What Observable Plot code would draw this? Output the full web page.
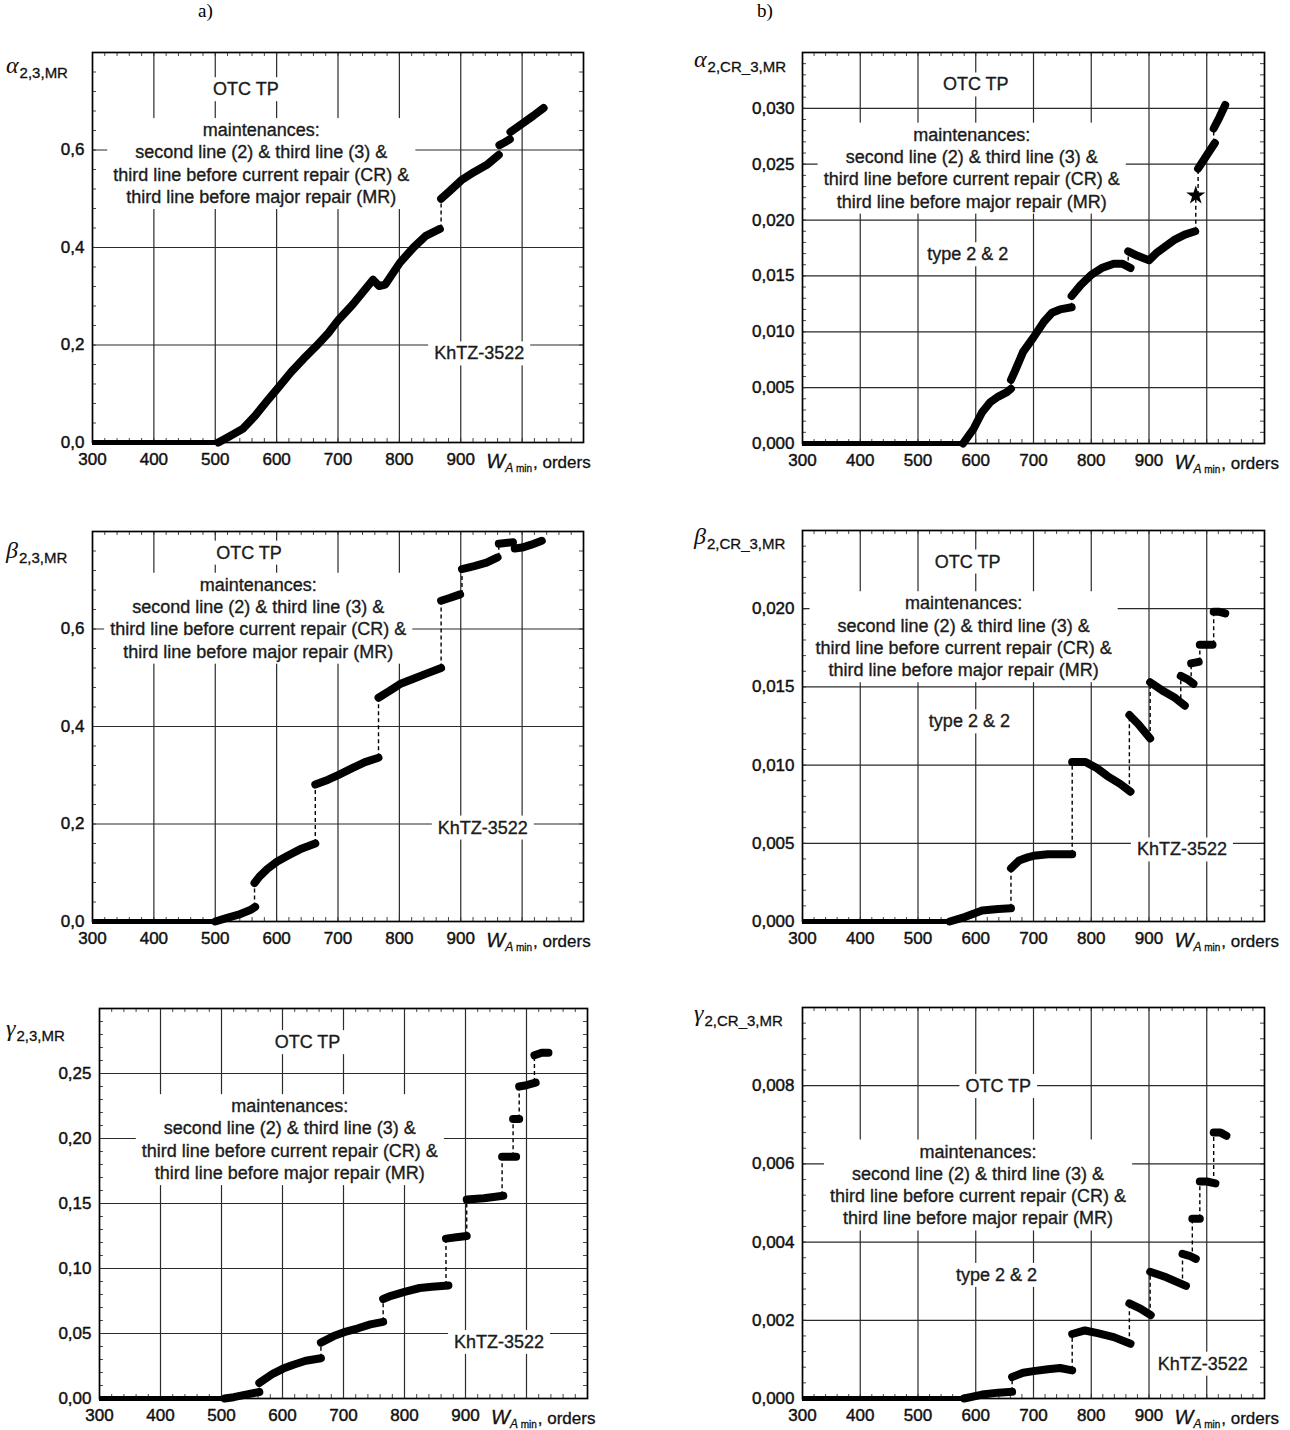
<!DOCTYPE html>
<html><head><meta charset="utf-8">
<script src="https://cdn.jsdelivr.net/npm/d3@7"></script>
<script src="https://cdn.jsdelivr.net/npm/@observablehq/plot@0.6"></script>
<style>
html,body{margin:0;padding:0;background:#fff;}
#root{position:relative;width:1290px;height:1430px;overflow:hidden;background:#fff;font-family:"Liberation Sans",Arial,sans-serif;color:#111;}
.panel{position:absolute;}
.panel svg{overflow:visible;}
.ylab{position:absolute;white-space:nowrap;line-height:1;color:#111;}
.ylab .g{font-family:"Liberation Serif","Times New Roman",serif;font-style:italic;font-size:24px;}
.ylab .s{font-size:15px;position:relative;top:5px;margin-left:1px;-webkit-text-stroke:0.3px #111;}
.xlab{position:absolute;white-space:nowrap;font-size:17px;line-height:1;color:#111;-webkit-text-stroke:0.3px #111;}
.xlab .w{font-style:italic;font-size:20px;}
.xlab .sub{position:relative;top:4px;font-size:10px;margin-right:1px;}
.xlab .sub i{font-size:12px;}
.tag{position:absolute;font-family:"Liberation Serif","Times New Roman",serif;font-size:19px;color:#000;}
</style></head>
<body><div id="root"></div>
<script>
// ---------- axes ----------
const X_DOMAIN = [300, 1100];
const xTickValues = [300, 400, 500, 600, 700, 800, 900];
const xGridValues = [400, 500, 600, 700, 800, 900, 1000];
const yTicksA = [0, 0.2, 0.4, 0.6];
const yTicksAlphaB = [0, 0.005, 0.010, 0.015, 0.020, 0.025, 0.030];
const yTicksBetaB = [0, 0.005, 0.010, 0.015, 0.020];
const yTicksGammaA = [0, 0.05, 0.10, 0.15, 0.20, 0.25];
const yTicksGammaB = [0, 0.002, 0.004, 0.006, 0.008];

// ---------- data: segments of [W_A min, value] ----------
const alpha23MR = [
  [[505,0],[525,0.014],[545,0.028],[565,0.055],[585,0.086],[601,0.11],[624,0.145],[644,0.172],[664,0.197],[684,0.224],[701,0.252],[724,0.283],[744,0.314],[757,0.334],[767,0.321],[777,0.324],[801,0.369],[823,0.4],[843,0.424],[866,0.438]],
  [[868,0.5],[883,0.517],[901,0.538],[922,0.555],[942,0.569],[962,0.59]],
  [[963,0.61],[972,0.616],[980,0.622]],
  [[981,0.637],[1000,0.654],[1018,0.670],[1035,0.686]]
];
const alpha2CR3MR = [
  [[578,0],[596,0.0013],[611,0.0028],[625,0.0037],[639,0.0042],[654,0.0046],[661,0.0049]],
  [[661,0.0057],[668,0.0065],[682,0.0082],[700,0.0095],[718,0.0109],[732,0.0117],[746,0.0120],[766,0.0122]],
  [[766,0.0132],[782,0.0142],[800,0.0151],[818,0.0157],[839,0.0161],[854,0.0161],[868,0.0157]],
  [[864,0.0172],[880,0.0168],[900,0.0164],[914,0.0171],[943,0.0182],[962,0.0187],[980,0.0190]],
  [[981,0.0222]],
  [[985,0.0246],[1000,0.0258],[1014,0.0269]],
  [[1012,0.0282],[1022,0.0292],[1032,0.0303]]
];
const beta23MR = [
  [[500,0],[518,0.007],[538,0.014],[558,0.024],[565,0.030]],
  [[564,0.079],[572,0.092],[585,0.108],[601,0.123],[618,0.135],[638,0.148],[663,0.160]],
  [[663,0.281],[684,0.291],[701,0.301],[724,0.315],[744,0.327],[766,0.336]],
  [[766,0.459],[784,0.473],[801,0.487],[823,0.498],[843,0.508],[868,0.520]],
  [[868,0.658],[883,0.664],[899,0.671]],
  [[902,0.723],[922,0.729],[942,0.736],[960,0.747]],
  [[962,0.775],[985,0.778]],
  [[988,0.765],[1000,0.767],[1015,0.773],[1032,0.781]]
];
const beta2CR3MR = [
  [[555,0],[582,0.0003],[596,0.0005],[611,0.0007],[639,0.0008],[661,0.00085]],
  [[661,0.0034],[675,0.0039],[690,0.0041],[700,0.0042],[725,0.0043],[767,0.0043]],
  [[767,0.0102],[790,0.0102],[810,0.0098],[828,0.0093],[850,0.0088],[868,0.0083]],
  [[866,0.0132],[882,0.0126],[902,0.0117]],
  [[902,0.0153],[926,0.0147],[945,0.0143],[962,0.0138]],
  [[955,0.0157],[966,0.0155],[977,0.0152]],
  [[973,0.0165],[986,0.0166]],
  [[988,0.0177],[1000,0.0177],[1010,0.0177]],
  [[1012,0.0198],[1022,0.0198],[1032,0.0197]]
];
const gamma23MR = [
  [[505,0],[520,0.001],[540,0.003],[562,0.005]],
  [[562,0.012],[584,0.019],[601,0.023],[618,0.026],[638,0.029],[663,0.031]],
  [[663,0.043],[684,0.048],[701,0.051],[724,0.054],[744,0.057],[765,0.059]],
  [[765,0.0765],[778,0.079],[800,0.082],[825,0.085],[845,0.086],[872,0.087]],
  [[868,0.123],[885,0.124],[902,0.125]],
  [[902,0.153],[930,0.154],[962,0.156]],
  [[960,0.186],[972,0.186],[983,0.186]],
  [[978,0.215],[988,0.215]],
  [[988,0.240],[1000,0.241],[1015,0.243]],
  [[1013,0.264],[1025,0.266],[1036,0.266]]
];
const gamma2CR3MR = [
  [[580,0],[611,0.0001],[639,0.00015],[663,0.00017]],
  [[663,0.00055],[682,0.00066],[700,0.0007],[725,0.00075],[746,0.00078],[767,0.00072]],
  [[767,0.00165],[789,0.00174],[811,0.00167],[839,0.00157],[868,0.0014]],
  [[866,0.00243],[885,0.0023],[903,0.00213]],
  [[902,0.00324],[930,0.0031],[964,0.00288]],
  [[958,0.0037],[970,0.00365],[981,0.00357]],
  [[975,0.0046],[988,0.0046]],
  [[988,0.00555],[1000,0.00555],[1015,0.0055]],
  [[1012,0.0068],[1024,0.0068],[1034,0.00672]]
];

// ---------- annotation texts ----------
const MAINT = "maintenances:\nsecond line (2) & third line (3) &\nthird line before current repair (CR) &\nthird line before major repair (MR)";
const notesA1 = [{x:550,y:0.727,text:"OTC TP"},{x:575,y:0.5745,text:MAINT},{x:930,y:0.185,text:"KhTZ-3522"}];
const notesB1 = [{x:600,y:0.03224,text:"OTC TP"},{x:593,y:0.02475,text:MAINT},{x:586,y:0.01704,text:"type 2 & 2"}];
const notesA2 = [{x:555,y:0.759,text:"OTC TP"},{x:570,y:0.6245,text:MAINT},{x:936,y:0.195,text:"KhTZ-3522"}];
const notesB2 = [{x:586,y:0.02309,text:"OTC TP"},{x:579,y:0.01828,text:MAINT},{x:589,y:0.01287,text:"type 2 & 2"},{x:957,y:0.00468,text:"KhTZ-3522"}];
const notesA3 = [{x:641,y:0.275,text:"OTC TP"},{x:612,y:0.20,text:MAINT},{x:955,y:0.0444,text:"KhTZ-3522"}];
const notesB3 = [{x:639,y:0.00802,text:"OTC TP"},{x:604,y:0.00549,text:MAINT},{x:636,y:0.00319,text:"type 2 & 2"},{x:993,y:0.00092,text:"KhTZ-3522"}];

const panels = [
  {frame:[92,583,52,442],  yDomain:[0,0.8],   yTicks:yTicksA,      dec:1, zeroEnd:505, segs:alpha23MR,   notes:notesA1, sym:"α", sub:"2,3,MR",     labX:6,   labDy:15},
  {frame:[802,1264,52,443],yDomain:[0,0.035], yTicks:yTicksAlphaB, dec:3, zeroEnd:578, segs:alpha2CR3MR, notes:notesB1, sym:"α", sub:"2,CR_3,MR",  labX:694, labDy:9},
  {frame:[92,583,531,921], yDomain:[0,0.8],   yTicks:yTicksA,      dec:1, zeroEnd:500, segs:beta23MR,    notes:notesA2, sym:"β", sub:"2,3,MR",     labX:6,   labDy:21},
  {frame:[802,1264,530,921],yDomain:[0,0.025],yTicks:yTicksBetaB,  dec:3, zeroEnd:555, segs:beta2CR3MR,  notes:notesB2, sym:"β", sub:"2,CR_3,MR",  labX:694, labDy:8},
  {frame:[99,587,1008,1398],yDomain:[0,0.30], yTicks:yTicksGammaA, dec:2, zeroEnd:505, segs:gamma23MR,   notes:notesA3, sym:"γ", sub:"2,3,MR",     labX:6,   labDy:22},
  {frame:[802,1264,1007,1398],yDomain:[0,0.010],yTicks:yTicksGammaB,dec:3, zeroEnd:580, segs:gamma2CR3MR, notes:notesB3, sym:"γ", sub:"2,CR_3,MR",  labX:694, labDy:8}
];

const root = document.getElementById("root");
const SVGNS = "http://www.w3.org/2000/svg";

for (const p of panels) {
  const [fx1, fx2, fy1, fy2] = p.frame;
  const mL = 90, mR = 20, mT = 12, mB = 30;
  const width = fx2 - fx1 + mL + mR, height = fy2 - fy1 + mT + mB;
  const [ylo, yhi] = p.yDomain;
  const step = p.yTicks[1] - p.yTicks[0];
  const yGrid = p.yTicks.filter(v => v > ylo + 1e-12 && v < yhi - 1e-12);
  const nMinor = Math.round((yhi - ylo) / (step / 5));
  const minorY = d3.range(1, nMinor).map(i => ylo + i * step / 5);
  const minorX = d3.range(320, 1100, 20);
  const tlY = (yhi - ylo) * 4 / (fy2 - fy1);
  const tlX = (X_DOMAIN[1] - X_DOMAIN[0]) * 4 / (fx2 - fx1);
  const rows = p.segs.flatMap((s, i) => s.map(([x, y]) => ({seg: i, x, y, n: s.length})));
  const lineRows = rows.filter(r => r.n > 1);
  const single = rows.filter(r => r.n === 1);
  const conns = p.segs.slice(1).map((s, i) => ({x: s[0][0], y1: p.segs[i][p.segs[i].length - 1][1], y2: s[0][1]}));
  const zero = [{x1: X_DOMAIN[0], x2: p.zeroEnd, y: 0}];
  const fmt = d => d3.format(`.${p.dec}f`)(d).replace(".", ",");

  const chart = Plot.plot({
    width, height, marginLeft: mL, marginRight: mR, marginTop: mT, marginBottom: mB,
    style: {fontFamily: "'Liberation Sans', Arial, sans-serif", fontSize: "17px", background: "transparent", color: "#111", overflow: "visible"},
    x: {domain: X_DOMAIN},
    y: {domain: p.yDomain},
    marks: [
      Plot.ruleX(xGridValues, {stroke: "#2b2b2b", strokeWidth: 1.2}),
      Plot.ruleY(yGrid, {stroke: "#2b2b2b", strokeWidth: 1.2}),
      Plot.ruleX(minorX, {y1: ylo, y2: ylo + tlY, stroke: "#333", strokeWidth: 0.9}),
      Plot.ruleX(minorX, {y1: yhi - tlY, y2: yhi, stroke: "#333", strokeWidth: 0.9}),
      Plot.ruleY(minorY, {x1: X_DOMAIN[0], x2: X_DOMAIN[0] + tlX, stroke: "#333", strokeWidth: 0.9}),
      Plot.ruleY(minorY, {x1: X_DOMAIN[1] - tlX, x2: X_DOMAIN[1], stroke: "#333", strokeWidth: 0.9}),
      Plot.text(p.notes, {x: "x", y: "y", text: "text", fontSize: 18, lineHeight: 1.24, fill: "#1b1b1b", stroke: "#1b1b1b", strokeWidth: 0.35, className: "annot"}),
      Plot.ruleY(zero, {x1: "x1", x2: "x2", y: "y", stroke: "#000", strokeWidth: 5}),
      Plot.ruleX(conns, {x: "x", y1: "y1", y2: "y2", stroke: "#000", strokeWidth: 1.4, strokeDasharray: "4,3"}),
      Plot.line(lineRows, {x: "x", y: "y", z: "seg", stroke: "#000", strokeWidth: 8, strokeLinecap: "round", strokeLinejoin: "round"}),
      Plot.dot(single, {x: "x", y: "y", r: 6, fill: "#000", symbol: "star"}),
      Plot.axisX(xTickValues, {tickSize: 0, tickPadding: 10, label: null, tickFormat: d => String(d), fill: "#111", textStroke: "#111", textStrokeWidth: 0.45}),
      Plot.axisY(p.yTicks, {tickSize: 0, tickPadding: 8, label: null, tickFormat: fmt, fill: "#111", textStroke: "#111", textStrokeWidth: 0.45}),
      Plot.frame({stroke: "#000", strokeWidth: 1.7})
    ]
  });

  const div = document.createElement("div");
  div.className = "panel";
  div.style.left = (fx1 - mL) + "px";
  div.style.top = (fy1 - mT) + "px";
  div.appendChild(chart);
  root.appendChild(div);

  // white boxes behind annotation texts
  chart.querySelectorAll("g.annot text").forEach(t => {
    const b = t.getBBox();
    const r = document.createElementNS(SVGNS, "rect");
    r.setAttribute("x", b.x - 6);
    r.setAttribute("y", b.y - 2);
    r.setAttribute("width", b.width + 12);
    r.setAttribute("height", b.height + 4);
    r.setAttribute("fill", "#fff");
    r.setAttribute("stroke", "none");
    const tr = t.getAttribute("transform");
    if (tr) r.setAttribute("transform", tr);
    t.parentNode.insertBefore(r, t);
  });

  // y-axis label (greek symbol with subscript)
  const yl = document.createElement("div");
  yl.className = "ylab";
  yl.style.left = p.labX + "px";
  yl.style.top = (fy1 + p.labDy - 14) + "px";
  yl.innerHTML = `<span class="g">${p.sym}</span><span class="s">${p.sub}</span>`;
  root.appendChild(yl);

  // x-axis label
  const xl = document.createElement("div");
  xl.className = "xlab";
  xl.style.left = (fx1 + 600 * (fx2 - fx1) / 800 + 26) + "px";
  xl.style.top = (fy2 + 9) + "px";
  xl.innerHTML = `<span class="w">W</span><span class="sub"><i>A</i> min</span>, orders`;
  root.appendChild(xl);
}

for (const [txt, left] of [["a)", 198], ["b)", 757]]) {
  const t = document.createElement("div");
  t.className = "tag";
  t.style.left = left + "px";
  t.style.top = "0px";
  t.textContent = txt;
  root.appendChild(t);
}
</script></body></html>
